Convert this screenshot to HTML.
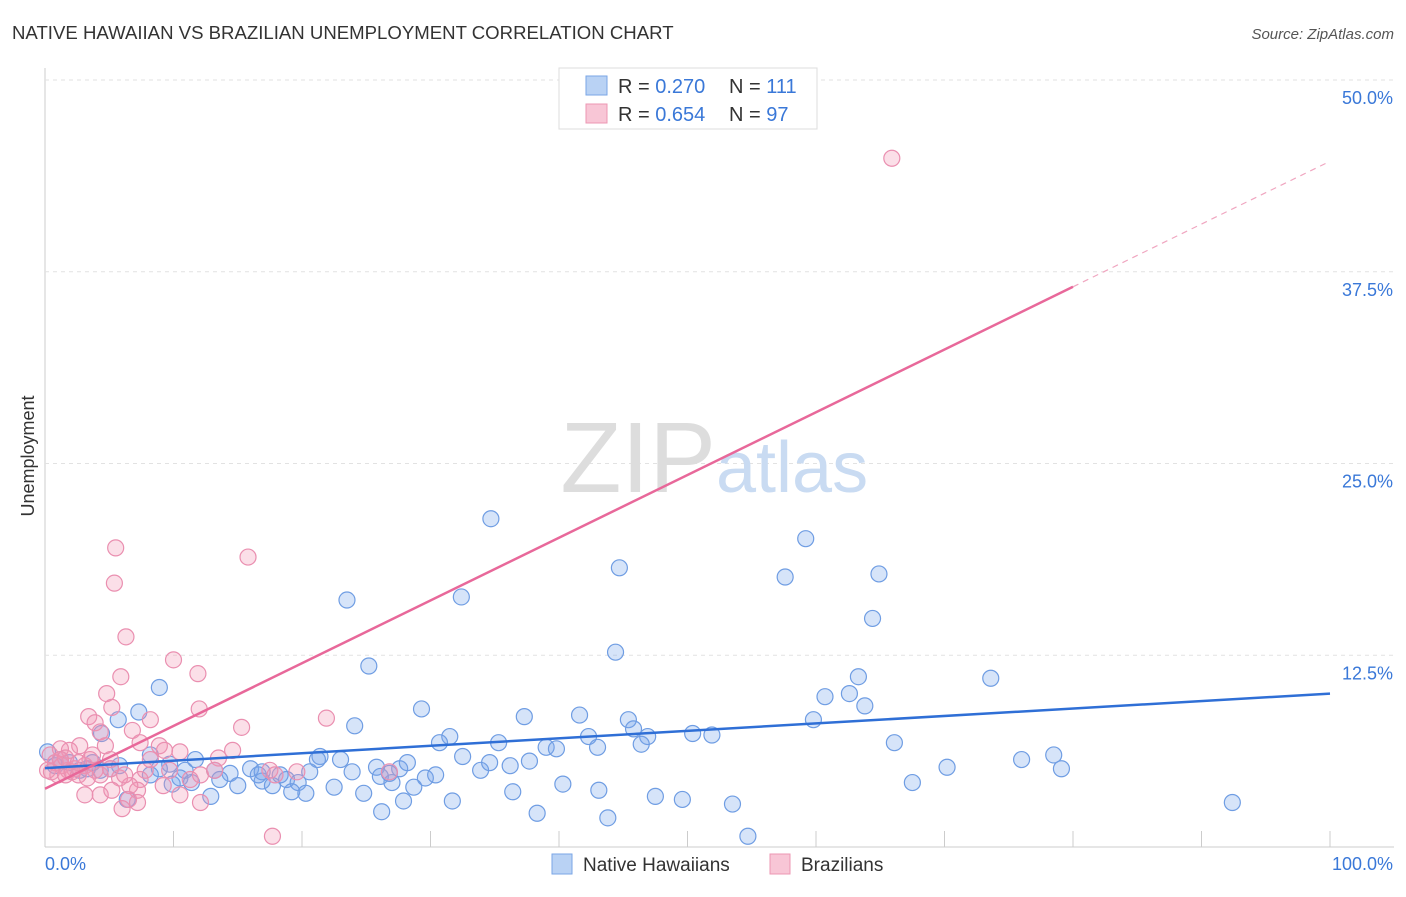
<!DOCTYPE html>
<html><head><meta charset="utf-8">
<style>
body{margin:0;background:#fff;font-family:"Liberation Sans",sans-serif;}
svg text{font-family:"Liberation Sans",sans-serif;}
</style></head>
<body>
<svg id="chart" width="1406" height="892">
<text x="12" y="39" font-size="18.6" fill="#333">NATIVE HAWAIIAN VS BRAZILIAN UNEMPLOYMENT CORRELATION CHART</text>
<text x="1394" y="39" font-size="15" fill="#555" font-style="italic" text-anchor="end">Source: ZipAtlas.com</text>
<text x="34" y="456" font-size="18" fill="#333" text-anchor="middle" transform="rotate(-90 34 456)">Unemployment</text>
<g id="grid"></g>
<text x="716" y="492" font-size="100" fill="#ddd" text-anchor="end" font-family="Liberation Serif">ZIP</text>
<text x="716" y="492" font-size="72" fill="#c9dbf2">atlas</text>
<g id="points"></g>
<g id="lines"></g>
<g>
<rect x="559" y="68" width="258" height="61" fill="#fff" stroke="#ddd"/>
<rect x="586" y="76" width="21" height="19" fill="#b9d2f4" stroke="#7aa6e6"/>
<rect x="586" y="104" width="21" height="19" fill="#f8c6d6" stroke="#ec97b3"/>
<text x="618" y="93" font-size="20" fill="#333">R = <tspan fill="#3a78d8">0.270</tspan></text>
<text x="729" y="93" font-size="20" fill="#333">N = <tspan fill="#3a78d8">111</tspan></text>
<text x="618" y="121" font-size="20" fill="#333">R = <tspan fill="#3a78d8">0.654</tspan></text>
<text x="729" y="121" font-size="20" fill="#333">N = <tspan fill="#3a78d8">97</tspan></text>
</g>
<g>
<rect x="552" y="854" width="20" height="20" fill="#b9d2f4" stroke="#7aa6e6"/>
<text x="583" y="871" font-size="19" fill="#333">Native Hawaiians</text>
<rect x="770" y="854" width="20" height="20" fill="#f8c6d6" stroke="#ec97b3"/>
<text x="801" y="871" font-size="19" fill="#333">Brazilians</text>
</g>
</svg>
<script>
const yTicks=[12.5,25,37.5,50];
const yTickLabels=["12.5%","25.0%","37.5%","50.0%"];
const xTickLabels=["0.0%","100.0%"];
const blueX=[34.7,23.5,32.4,44.7,59.2,57.6,64.9,64.4,44.4,25.2,63.3,73.6,8.9,60.7,62.6,63.8,59.8,7.3,5.7,4.4,29.3,37.3,41.6,45.4,24.1,31.5,30.7,35.3,42.3,45.8,46.9,46.4,50.4,51.9,66.1,39.0,39.8,43.0,0.2,1.2,1.9,3.7,5.1,8.2,9.7,10.9,11.7,13.2,14.4,16.0,16.6,16.9,17.7,18.8,19.7,21.4,23.0,21.2,23.9,25.8,26.1,27.0,27.6,28.2,29.6,30.4,32.5,33.9,34.6,36.2,37.7,76.0,78.5,79.1,70.2,67.5,15.0,19.2,20.3,22.5,24.8,26.8,27.9,28.7,31.7,36.4,40.3,43.1,47.5,49.6,53.5,92.4,12.9,9.9,6.4,26.2,38.3,43.8,54.7,10.5,8.9,13.6,16.9,18.3,20.6,11.4,8.2,2.7,0.8,3.3,4.3,5.8];
const blueY=[21.4,16.1,16.3,18.2,20.1,17.6,17.8,14.9,12.7,11.8,11.1,11.0,10.4,9.8,10.0,9.2,8.3,8.8,8.3,7.4,9.0,8.5,8.6,8.3,7.9,7.2,6.8,6.8,7.2,7.7,7.2,6.7,7.4,7.3,6.8,6.5,6.4,6.5,6.2,5.7,5.5,5.5,5.1,6.0,5.4,5.0,5.7,5.0,4.8,5.1,4.7,4.3,4.0,4.4,4.2,5.9,5.7,5.7,4.9,5.2,4.6,4.2,5.1,5.5,4.5,4.7,5.9,5.0,5.5,5.3,5.6,5.7,6.0,5.1,5.2,4.2,4.0,3.6,3.5,3.9,3.5,4.8,3.0,3.9,3.0,3.6,4.1,3.7,3.3,3.1,2.8,2.9,3.3,4.1,3.1,2.3,2.2,1.9,0.7,4.5,5.1,4.4,4.9,4.7,4.9,4.2,4.7,5.0,5.3,5.1,5.0,5.3];
const pinkX=[65.9,5.5,15.8,5.4,6.3,10.0,11.9,5.9,4.8,5.2,12.0,8.2,3.4,3.9,15.3,21.9,6.8,4.3,7.4,8.9,9.3,10.5,14.6,13.5,4.7,2.7,1.9,1.2,0.4,0.8,1.3,1.8,2.3,3.1,3.5,3.9,4.3,5.1,0.2,0.5,1.0,1.6,2.1,2.6,3.3,5.8,7.4,9.2,11.3,12.1,13.2,17.5,17.9,19.6,26.8,3.1,4.3,5.2,7.2,10.5,6.5,7.2,6.0,12.1,17.7,6.6,7.8,1.2,1.6,2.6,3.7,5.1,6.2,8.2,9.7];
const pinkY=[44.9,19.5,18.9,17.2,13.7,12.2,11.3,11.1,10.0,9.1,9.0,8.3,8.5,8.1,7.8,8.4,7.6,7.5,6.8,6.6,6.3,6.2,6.3,5.8,6.6,6.6,6.3,6.4,6.0,5.5,5.3,5.0,5.1,5.3,5.7,5.0,4.7,5.1,5.0,4.9,4.7,4.7,4.9,4.7,4.5,4.5,4.4,4.0,4.4,4.7,5.0,5.0,4.7,4.9,4.9,3.4,3.4,3.7,3.7,3.4,3.1,2.9,2.5,2.9,0.7,4.0,5.0,5.7,5.8,5.5,6.0,5.7,4.7,5.7,5.0];
const blueFit=[5.14,10.0];
const pinkFit=[3.8,44.7];
const pinkSolidEnd=80;

const X0=45,X1=1330,Y0=847,Y50=80;
const sx=v=>X0+(X1-X0)*v/100;
const sy=v=>Y0-(Y0-Y50)*v/50;
const NS="http://www.w3.org/2000/svg";
function mk(t,a,p){const e=document.createElementNS(NS,t);for(const k in a)e.setAttribute(k,a[k]);p.appendChild(e);return e;}
const grid=document.getElementById('grid');
mk('line',{x1:X0,y1:68,x2:X0,y2:Y0,stroke:'#ccc'},grid);
mk('line',{x1:X0,y1:Y0,x2:1394,y2:Y0,stroke:'#ccc'},grid);
mk('line',{x1:X0,y1:sy(50),x2:1394,y2:sy(50),stroke:'#ddd','stroke-dasharray':'4,4'},grid);
yTicks.forEach((t,i)=>{
  const l=mk('line',{x1:X0,y1:sy(t),x2:1394,y2:sy(t),stroke:'#e2e2e2','stroke-dasharray':'4,4'},grid);
  
  
  const tx=mk('text',{x:1393,y:sy(t)+24,'font-size':18,fill:'#3a78d8','text-anchor':'end'},grid);
  tx.textContent=yTickLabels[i];
  
  
});
for(let i=0;i<=10;i++){
  const l=mk('line',{x1:sx(i*10),y1:831,x2:sx(i*10),y2:Y0,stroke:'#ccc'},grid);
  
  
}
[[45,'start',0],[1393,'end',1]].forEach(([x,a,i])=>{
  const t=mk('text',{x:x,y:870,'font-size':18,fill:'#3a78d8','text-anchor':a},grid);
  t.textContent=xTickLabels[i];
  
  
});
const pts=document.getElementById('points');
blueX.forEach((v,i)=>{
  const c=mk('circle',{cx:sx(v),cy:sy(blueY[i]),r:8,fill:'rgba(120,165,235,0.3)',stroke:'#6f9de3','stroke-width':1.2},pts);
  
  
});
pinkX.forEach((v,i)=>{
  const c=mk('circle',{cx:sx(v),cy:sy(pinkY[i]),r:8,fill:'rgba(242,150,180,0.3)',stroke:'#ea8fb0','stroke-width':1.2},pts);
  
  
});
const lines=document.getElementById('lines');
const bl=mk('line',{x1:sx(0),y1:sy(blueFit[0]),x2:sx(100),y2:sy(blueFit[1]),stroke:'#2f6fd6','stroke-width':2.5},lines);


const pAt=x=>pinkFit[0]+(pinkFit[1]-pinkFit[0])*x/100;
const pl=mk('line',{x1:sx(0),y1:sy(pAt(0)),x2:sx(pinkSolidEnd),y2:sy(pAt(pinkSolidEnd)),stroke:'#e8689a','stroke-width':2.5},lines);


const pd=mk('line',{x1:sx(pinkSolidEnd),y1:sy(pAt(pinkSolidEnd)),x2:sx(100),y2:sy(pAt(100)),stroke:'#f0a6c0','stroke-width':1.2,'stroke-dasharray':'6,5'},lines);


</script>
</body></html>
